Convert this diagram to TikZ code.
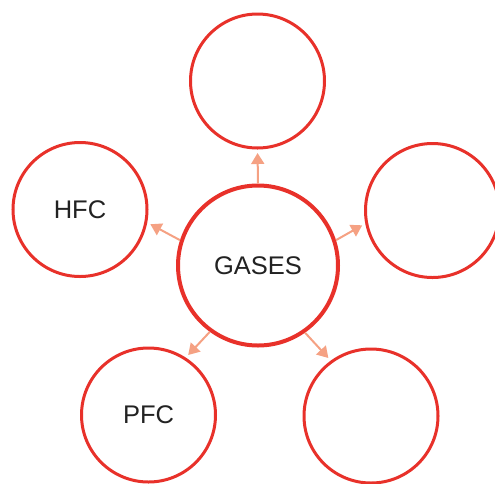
\documentclass[tikz,border=0pt]{standalone}
\usepackage{fontspec}
\setmainfont{Liberation Sans}
\usetikzlibrary{arrows.meta}
\definecolor{ringred}{HTML}{E8312A}
\definecolor{arrowsalmon}{HTML}{F5A183}
\definecolor{labelink}{HTML}{222222}
\tikzset{
  ring/.style={circle, draw=ringred, line width=3pt, minimum size=134pt,
    inner sep=0pt, fill=white, text=labelink, font=\fontsize{25.5}{30}\selectfont},
  hub/.style={ring, line width=4pt, minimum size=160pt},
  spoke/.style={draw=arrowsalmon, line width=2pt,
    -{Triangle[width=13pt,length=11pt]}, shorten >=3.5pt}
}
\begin{document}
\begin{tikzpicture}[x=1pt,y=-1pt]
  \useasboundingbox (0,0) rectangle (495,483);
  \node[hub]  (gases) at (258,265.5) {GASES};
  \node[ring] (top)   at (257.5,81)  {};
  \node[ring] (hfc)   at (80,209.5)  {HFC};
  \node[ring] (right) at (432.5,210.5) {};
  \node[ring] (pfc)   at (148.5,415) {PFC};
  \node[ring] (low)   at (371,416)   {};
  \draw[spoke] (gases.90)  -- (top.270);
  \draw[spoke] (gases.162) -- (hfc.-11);
  \draw[spoke] (gases.18)  -- (right.191);
  \draw[spoke] (gases.234) -- (pfc.57);
  \draw[spoke] (gases.305) -- (low.126);
\end{tikzpicture}
\end{document}
